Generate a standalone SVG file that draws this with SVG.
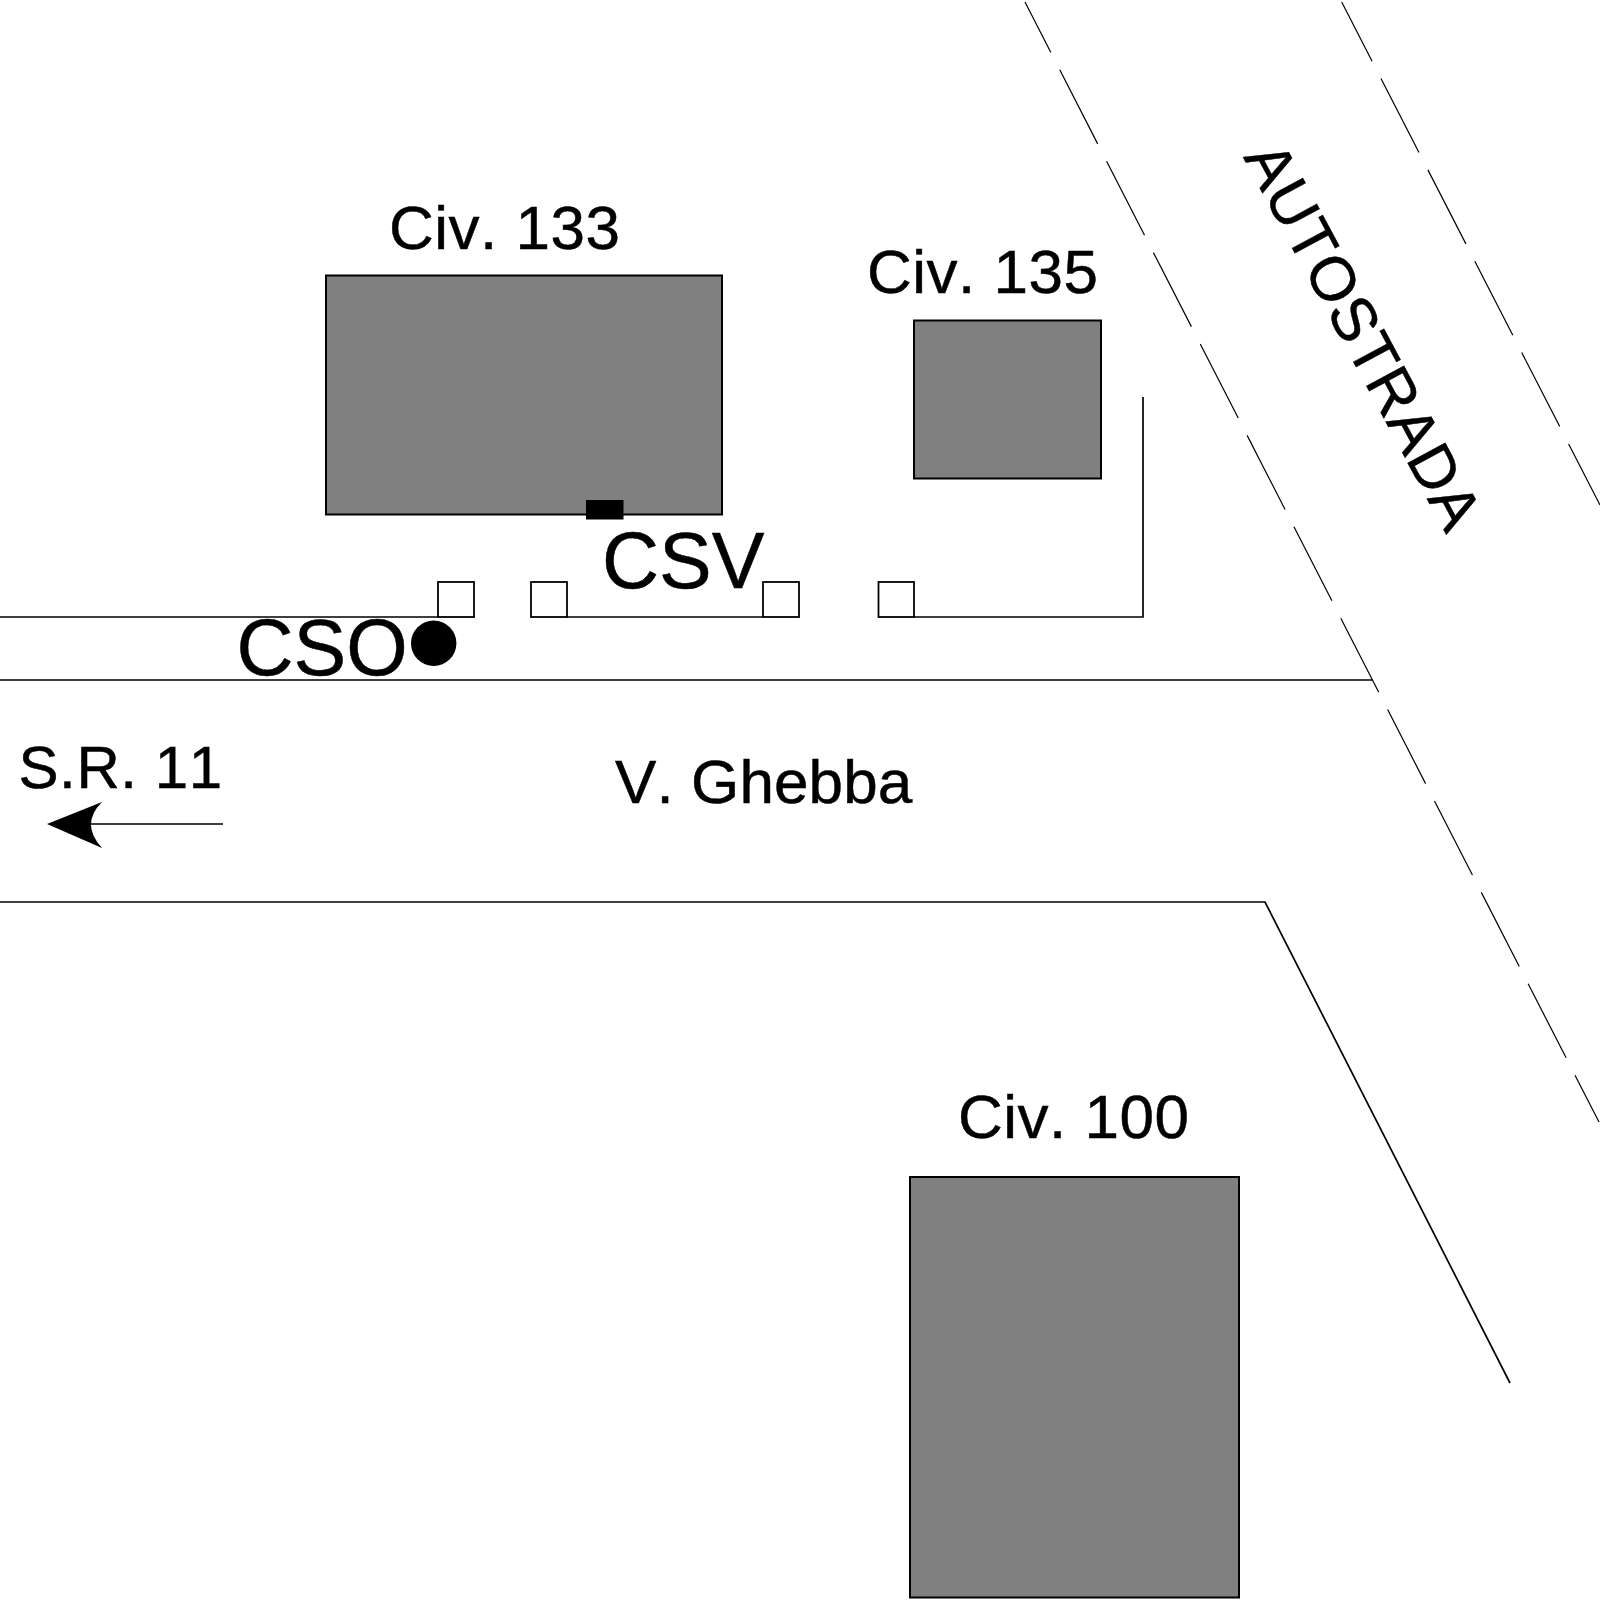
<svg xmlns="http://www.w3.org/2000/svg" width="1600" height="1600" viewBox="0 0 1600 1600">
<style>
text{font-family:"Liberation Sans",Arial,sans-serif;fill:#000;stroke:#000;stroke-width:.5;font-kerning:none}
.m{font-size:62px;letter-spacing:.5px}
.l{font-size:79px}
.b{fill:#808080;stroke:#000;stroke-width:2}
.s{fill:#fff;stroke:#000;stroke-width:1.8}
.r{fill:none;stroke:#000;stroke-width:1.7}
.d{fill:none;stroke:#000;stroke-width:1.2}
.a{stroke-dasharray:83.2 19.5}
</style>
<rect width="1600" height="1600" fill="#fff"/>
<g id="connectors">
<path class="r" d="M0 617H438M567 617H763M914 617H1143V397"/>
<path class="r" d="M0 680H1372"/>
<path class="d" d="M0 902H1265L1510 1383" style="stroke-width:1.7"/>
<path class="d a" stroke-dashoffset="26.5" d="M1025 2L1599 1122"/>
<path class="d a" stroke-dashoffset="16.7" d="M1341.7 2L1600 505"/>
<path class="r" d="M223 824H90"/>
<path d="M47 824L102 802Q80 824 102 848Z" fill="#000"/>
</g>
<g id="civ133"><rect class="b" x="326" y="275.5" width="396" height="239"/><text class="m" x="389" y="249">Civ. 133</text></g>
<g id="civ135"><rect class="b" x="914" y="320.5" width="187" height="158"/><text class="m" x="867" y="293">Civ. 135</text></g>
<g id="civ100"><rect class="b" x="910" y="1177" width="329" height="420.5"/><text class="m" x="958" y="1138">Civ. 100</text></g>
<g id="csv"><rect x="586" y="500" width="37.5" height="19.5" fill="#000" stroke="none"/><text class="l" x="602" y="588">CSV</text></g>
<g id="cso"><circle cx="433.7" cy="643.3" r="22.7" fill="#000"/><text class="l" x="236.5" y="675">CSO</text></g>
<g id="square1"><rect class="s" x="438" y="582" width="36" height="35"/></g>
<g id="square2"><rect class="s" x="531" y="582" width="36" height="35"/></g>
<g id="square3"><rect class="s" x="763" y="582" width="36" height="35"/></g>
<g id="square4"><rect class="s" x="878.5" y="582" width="35.5" height="35"/></g>
<g id="labels">
<text class="m" x="18.5" y="788" style="font-size:60px;letter-spacing:.6px">S.R. 11</text>
<text class="m" x="615" y="803" style="letter-spacing:.1px">V. Ghebba</text>
<text class="m" transform="translate(1243 157) rotate(61.7)" style="letter-spacing:.6px">AUTOSTRADA</text>
</g>
</svg>
